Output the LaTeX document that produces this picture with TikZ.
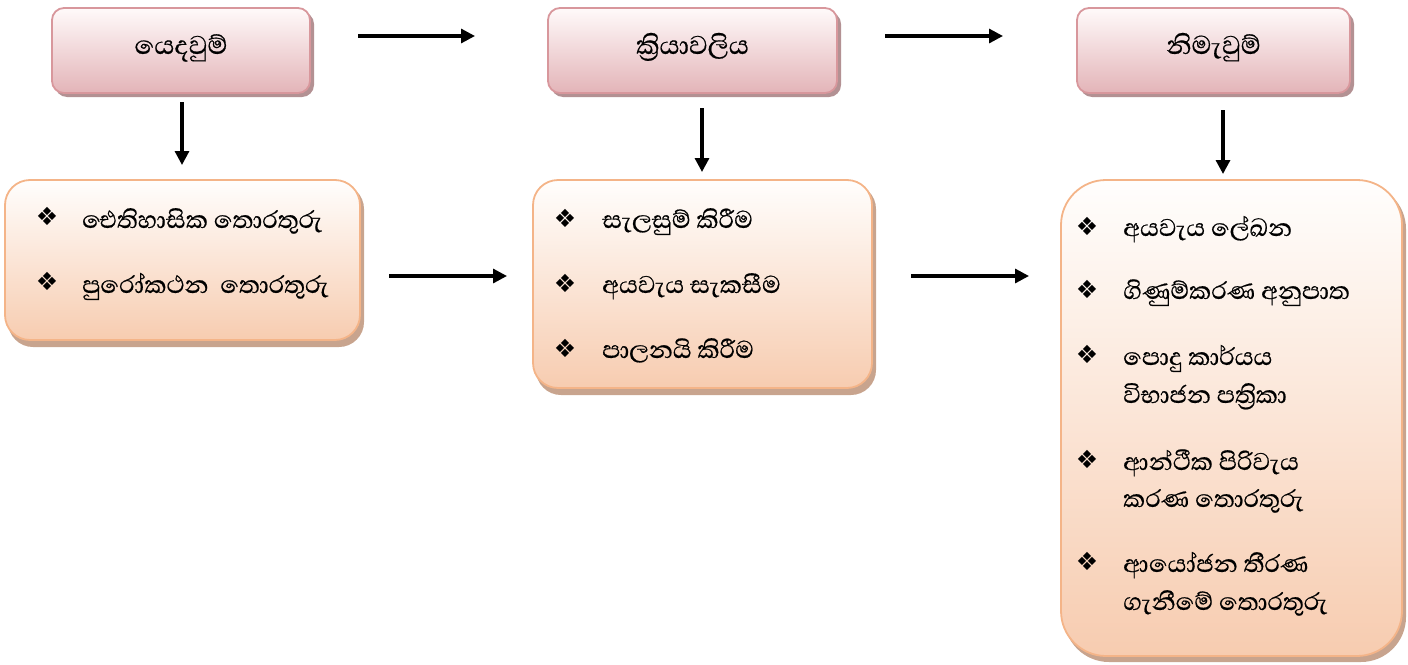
\documentclass[tikz,border=0pt]{standalone}
\usepackage{fontspec}
\newfontfamily\sinfont[Script=Sinhala,FakeBold=0.5]{Abhaya Libre}
\newfontfamily\symfont{DejaVu Sans}
\usetikzlibrary{arrows.meta,calc}
\definecolor{pinkline}{HTML}{D8979C}
\definecolor{pinktop}{HTML}{FFFAFA}
\definecolor{pinkbot}{HTML}{E3B4B8}
\definecolor{pinkshadow}{HTML}{B39193}
\definecolor{orline}{HTML}{F4B488}
\definecolor{ortop}{HTML}{FFFEFD}
\definecolor{orbot}{HTML}{F7CCB0}
\definecolor{orshadow}{HTML}{C8A48E}
\tikzset{
  topbox/.style={draw=pinkline, line width=1.8pt, rounded corners=12pt,
    top color=pinktop, bottom color=pinkbot, inner sep=0pt},
  botbox/.style={draw=orline, line width=1.8pt, rounded corners=#1,
    top color=ortop, bottom color=orbot, inner sep=0pt},
  arr/.style={line width=3.2pt, -{Triangle[length=14pt,width=14pt]}},
  lbl/.style={font=\sinfont\fontsize{33}{38}\selectfont, anchor=base, inner sep=0pt},
  item/.style={font=\sinfont\fontsize{31}{36}\selectfont, anchor=base west, inner sep=0pt},
  bul/.style={font=\symfont\fontsize{25}{28}\selectfont, anchor=center, inner sep=0pt}
}
\begin{document}
\begin{tikzpicture}[x=1pt,y=-1pt]
\useasboundingbox (0,0) rectangle (1408,664);
% shadows
\fill[pinkshadow, rounded corners=12pt] (55,12) rectangle (314,97);
\fill[pinkshadow, rounded corners=12pt] (551,12) rectangle (841,97);
\fill[pinkshadow, rounded corners=12pt] (1080,12) rectangle (1354,97);
\fill[orshadow, rounded corners=25pt] (8,184) rectangle (364,347);
\fill[orshadow, rounded corners=25pt] (536,184) rectangle (876,395);
\fill[orshadow, rounded corners=45pt] (1064,184) rectangle (1406,662);
% top boxes
\node[topbox, minimum width=258pt, minimum height=85pt] (t1) at (181,50.5) {};
\node[topbox, minimum width=289pt, minimum height=85pt] (t2) at (692.5,50.5) {};
\node[topbox, minimum width=273pt, minimum height=85pt] (t3) at (1213.5,50.5) {};
\node[lbl] (t1l) at (181,54) {යෙදවුම්};
\node[lbl] (t2l) at (692.5,54) {ක්^^^^200dරියාවලිය};
\node[lbl] (t3l) at (1213.5,54) {නිමැවුම්};
% bottom boxes
\node[botbox=25pt, minimum width=355pt, minimum height=160pt] (b1) at (182.5,260) {};
\node[botbox=25pt, minimum width=339pt, minimum height=208pt] (b2) at (702.5,284) {};
\node[botbox=45pt, minimum width=341pt, minimum height=476pt] (b3) at (1231.5,418) {};
% left box items
\node[bul] (b1a) at (47,216) {❖};
\node[item] (b1at) at (82,228) {ඓතිහාසික තොරතුරු};
\node[bul] (b1b) at (47,281) {❖};
\node[item] (b1bt) at (82,293) {පුරෝකථන\ \ තොරතුරු};
% middle box items
\node[bul] (b2a) at (565,218) {❖};
\node[item] (b2at) at (602,228) {සැලසුම් කිරීම};
\node[bul] (b2b) at (565,283) {❖};
\node[item] (b2bt) at (602,293) {අයවැය සැකසීම};
\node[bul] (b2c) at (565,348) {❖};
\node[item] (b2ct) at (602,358) {පාලනයි කිරීම};
% right box items
\node[bul] (b3a) at (1087,226) {❖};
\node[item] (b3at) at (1123,236) {අයවැය ලේඛන};
\node[bul] (b3b) at (1087,289) {❖};
\node[item] (b3bt) at (1123,299) {ගිණුම්කරණ අනුපාත};
\node[bul] (b3c) at (1087,354) {❖};
\node[item] (b3ct) at (1123,365) {පොදු කාර්යය};
\node[item] (b3ct2) at (1123,403) {විභාජන පත්^^^^200dරිකා};
\node[bul] (b3d) at (1087,459) {❖};
\node[item] (b3dt) at (1123,470) {ආන්ථීක පිරිවැය};
\node[item] (b3dt2) at (1123,507) {කරණ තොරතුරු};
\node[bul] (b3e) at (1087,561) {❖};
\node[item] (b3et) at (1123,572) {ආයෝජන තීරණ};
\node[item] (b3et2) at (1123,610) {ගැනීමේ තොරතුරු};
% connector end points
\coordinate (h1s) at (358,36);  \coordinate (h1e) at (475,36);
\coordinate (h2s) at (885,36);  \coordinate (h2e) at (1003,36);
\coordinate (m1s) at (389,276); \coordinate (m1e) at (507,276);
\coordinate (m2s) at (911,276); \coordinate (m2e) at (1029,276);
\coordinate (v1s) at (182,102); \coordinate (v1e) at (182,165);
\coordinate (v2s) at (702,108); \coordinate (v2e) at (702,172);
\coordinate (v3s) at (1223,110); \coordinate (v3e) at (1223,174);
\draw[arr] (h1s) -- (h1e);
\draw[arr] (h2s) -- (h2e);
\draw[arr] (m1s) -- (m1e);
\draw[arr] (m2s) -- (m2e);
\draw[arr] (v1s) -- (v1e);
\draw[arr] (v2s) -- (v2e);
\draw[arr] (v3s) -- (v3e);
\end{tikzpicture}
\end{document}
